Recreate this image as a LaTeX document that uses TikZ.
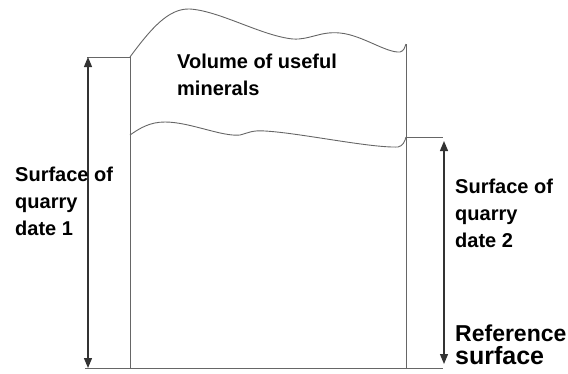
\documentclass[tikz,border=0pt]{standalone}
\usepackage{fontspec}
\setmainfont{Liberation Sans}
\usetikzlibrary{arrows.meta}
\begin{document}
\begin{tikzpicture}[x=1pt,y=-1pt,
  boxline/.style={draw=black!60, line width=0.9pt},
  dimarrow/.style={draw=black!80, line width=1.2pt, {Triangle[width=8pt,length=10pt]}-{Triangle[width=8pt,length=10pt]}},
  lbl/.style={inner sep=0pt, anchor=base west, align=left, font=\bfseries\fontsize{20}{27}\selectfont}]
\useasboundingbox (0,0) rectangle (568,373);
% key points
\coordinate (TL) at (130,57);
\coordinate (TLa) at (87,57);
\coordinate (BL) at (130,368);
\coordinate (BLa) at (85,368);
\coordinate (TR) at (406,44);
\coordinate (MR) at (406,137);
\coordinate (MRa) at (443,137);
\coordinate (BR) at (406,368);
\coordinate (BRa) at (443,368);
\coordinate (LB) at (130,135);
\coordinate (A1t) at (88,57);
\coordinate (A1b) at (88,368);
\coordinate (A2t) at (444,141);
\coordinate (A2b) at (444,364);
% box
\draw[boxline] (TLa) -- (TL) -- (BL);
\draw[boxline] (BLa) -- (BR);
\draw[boxline] (TR) -- (BR);
\draw[boxline] (MR) -- (MRa);
\draw[boxline] (BR) -- (BRa);
% upper wavy surface
\draw[boxline] (TL) .. controls (150,30) and (168,8) .. (190,9)
  .. controls (220,11) and (262,36) .. (293,39)
  .. controls (310,40) and (320,31) .. (340,33)
  .. controls (362,35) and (386,53) .. (400,52)
  .. controls (404,51) and (405,47) .. (TR);
% lower wavy surface
\draw[boxline] (LB) .. controls (140,128) and (150,122) .. (165,122)
  .. controls (190,122) and (222,137) .. (240,135)
  .. controls (248,133) and (252,130) .. (265,131)
  .. controls (300,133) and (370,148) .. (398,147)
  .. controls (403,146) and (405,141) .. (MR);
% arrows
\draw[dimarrow] (A1t) -- (A1b);
\draw[dimarrow] (A2t) -- (A2b);
% labels (anchor = baseline of last line)
\node[lbl] (vol) at (177,95) {Volume of useful\\minerals};
\node[lbl] (d1) at (15,235) {Surface of\\quarry\\date 1};
\node[lbl] (d2) at (455,247) {Surface of\\quarry\\date 2};
\node[inner sep=0pt, anchor=base west, font=\bfseries\fontsize{23}{23}\selectfont] (ref) at (455,341) {Reference};
\node[inner sep=0pt, anchor=base west, font=\bfseries\fontsize{25}{25}\selectfont] (sur) at (455,364) {surface};
\end{tikzpicture}
\end{document}
